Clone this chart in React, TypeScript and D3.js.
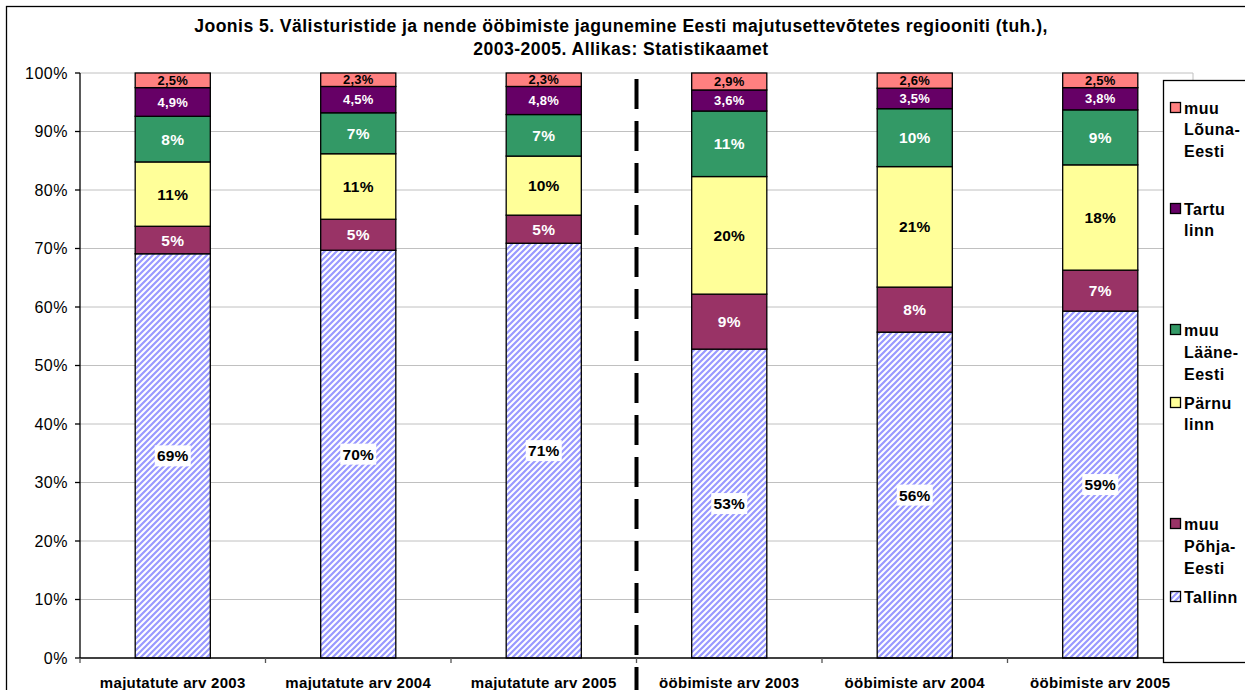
import React from "react";
import * as d3 from "d3";

// categories (bars) and series (stack segments, bottom to top)
const categories = [
  "majutatute arv 2003",
  "majutatute arv 2004",
  "majutatute arv 2005",
  "ööbimiste arv 2003",
  "ööbimiste arv 2004",
  "ööbimiste arv 2005",
];
const seriesNames = ["Tallinn", "muu Põhja-Eesti", "Pärnu linn", "muu Lääne-Eesti", "Tartu linn", "muu Lõuna-Eesti"];
const legendLabels = [["Tallinn"], ["muu", "Põhja-", "Eesti"], ["Pärnu", "linn"], ["muu", "Lääne-", "Eesti"], ["Tartu", "linn"], ["muu", "Lõuna-", "Eesti"]];

// shares in %
const tallinn = [69.1, 69.7, 70.9, 52.8, 55.7, 59.3];
const pohja = [4.7, 5.3, 4.8, 9.4, 7.7, 7.0];
const parnu = [11.0, 11.2, 10.1, 20.1, 20.6, 18.0];
const laane = [7.8, 7.0, 7.1, 11.2, 9.9, 9.4];
const tartu = [4.9, 4.5, 4.8, 3.6, 3.5, 3.8];
const louna = [2.5, 2.3, 2.3, 2.9, 2.6, 2.5];

const yTicks = [0, 10, 20, 30, 40, 50, 60, 70, 80, 90, 100];

const colors = ["url(#hatch)", "#993366", "#FFFF99", "#339966", "#660066", "#FF8080"];
const textColors = ["#000", "#fff", "#000", "#fff", "#fff", "#000"];

const W = 1245;
const H = 690;
const margin = { left: 80, top: 73, right: 52, bottom: 32 };
const FONT = "'Liberation Sans', Arial, sans-serif";

export default function App() {
  const values = [tallinn, pohja, parnu, laane, tartu, louna];
  const rows = categories.map((c, i) => {
    const r: any = { cat: c };
    seriesNames.forEach((s, k) => (r[s] = values[k][i]));
    return r;
  });
  const stacked = d3.stack().keys(seriesNames)(rows);

  const x = d3.scaleBand().domain(categories).range([margin.left, W - margin.right]).paddingInner(0).paddingOuter(0);
  const y = d3.scaleLinear().domain([0, 100]).range([H - margin.bottom, margin.top]);
  const bw = x.bandwidth() * 0.405;
  const x0 = margin.left;
  const x1 = W - margin.right;
  const yb = y(0);
  const yt = y(100);
  const divX = x(categories[3])!;

  const fmt = (v: number, k: number) =>
    k >= 4 ? v.toFixed(1).replace(".", ",") + "%" : Math.round(v) + "%";

  const legendY: number[][] = [[597], [524, 546, 568], [403, 424], [330, 352, 374], [209, 230], [108, 129, 151]];

  return (
    <svg width={W} height={H} style={{ position: "fixed", left: 0, top: 0 }} fontFamily={FONT}>
      <defs>
        <pattern id="hatch" width="6" height="6" patternUnits="userSpaceOnUse">
          <rect width="6" height="6" fill="#fff" />
          <path d="M-1,7 L7,-1 M-4,4 L4,-4 M2,10 L10,2" stroke="#9999FF" strokeWidth="2.2" />
        </pattern>
      </defs>
      <rect x={0} y={0} width={W} height={H} fill="#fff" />
      <rect x={6.5} y={6.5} width={W + 10} height={H + 10} fill="none" stroke="#000" strokeWidth={1.3} />

      <text x={621} y={31.5} textAnchor="middle" fontSize={17.6} fontWeight="bold" letterSpacing={0.45}>
        Joonis 5. Välisturistide ja nende ööbimiste jagunemine Eesti majutusettevõtetes regiooniti (tuh.),
      </text>
      <text x={621} y={54.5} textAnchor="middle" fontSize={17.6} fontWeight="bold" letterSpacing={0.45}>
        2003-2005. Allikas: Statistikaamet
      </text>

      {/* gridlines */}
      {yTicks.slice(1).map((t) => (
        <line key={t} x1={x0} x2={x1} y1={y(t)} y2={y(t)} stroke="#c0c0c0" strokeWidth={1} />
      ))}
      <line x1={x1} x2={x1} y1={yt} y2={yb} stroke="#c0c0c0" />

      {/* bars */}
      {stacked.map((s, k) =>
        s.map((d, i) => (
          <rect
            key={k + "-" + i}
            x={x(categories[i])! + (x.bandwidth() - bw) / 2}
            y={y(d[1])}
            width={bw}
            height={y(d[0]) - y(d[1])}
            fill={colors[k]}
            stroke="#000"
            strokeWidth={1.3}
          />
        ))
      )}

      {/* labels */}
      {stacked.map((s, k) =>
        s.map((d, i) => {
          const cx = x(categories[i])! + x.bandwidth() / 2;
          const cy = (y(d[0]) + y(d[1])) / 2;
          const label = fmt(d[1] - d[0], k);
          return (
            <g key={"l" + k + "-" + i}>
              {k === 0 && <rect x={cx - 18} y={cy - 10.5} width={36} height={21} fill="#fff" />}
              <text
                x={cx}
                y={cy}
                dy="0.36em"
                textAnchor="middle"
                fontSize={k >= 4 ? 13 : 15.5}
                fontWeight="bold"
                letterSpacing={0.2}
                fill={textColors[k]}
              >
                {label}
              </text>
            </g>
          );
        })
      )}

      {/* axes */}
      <line x1={x0} x2={1163} y1={yb} y2={yb} stroke="#000" strokeWidth={1.3} />
      <line x1={x0} x2={x0} y1={yt} y2={yb} stroke="#000" strokeWidth={1.3} />
      {yTicks.map((t) => (
        <g key={"yt" + t}>
          <line x1={x0 - 5} x2={x0} y1={y(t)} y2={y(t)} stroke="#000" strokeWidth={1.3} />
          <text x={x0 - 12} y={y(t)} dy="0.36em" textAnchor="end" fontSize={16} letterSpacing={0.5}>
            {t}%
          </text>
        </g>
      ))}
      {categories.map((c, i) => (
        <g key={c}>
          <line x1={x(c)!} x2={x(c)!} y1={yb} y2={yb + 5} stroke="#555" strokeWidth={1.3} />
          <text x={x(c)! + x.bandwidth() / 2} y={688} textAnchor="middle" fontSize={15} fontWeight="bold" letterSpacing={0.3}>
            {c}
          </text>
        </g>
      ))}

      {/* divider between groups */}
      <line x1={divX} x2={divX} y1={79} y2={H} stroke="#000" strokeWidth={4} strokeDasharray="30 12" />

      {/* legend */}
      <rect x={1163.5} y={80.5} width={90} height={582} fill="#fff" stroke="#000" strokeWidth={1.3} />
      {legendLabels.map((lines, k) => (
        <g key={"lg" + k}>
          <rect x={1170.5} y={legendY[k][0] - 5.5} width={10} height={10} fill={colors[k]} stroke="#000" strokeWidth={1.3} />
          {lines.map((ln, j) => (
            <text key={j} x={1184} y={legendY[k][j]} dy="0.36em" fontSize={16} fontWeight="bold" letterSpacing={0.5}>
              {ln}
            </text>
          ))}
        </g>
      ))}
    </svg>
  );
}
